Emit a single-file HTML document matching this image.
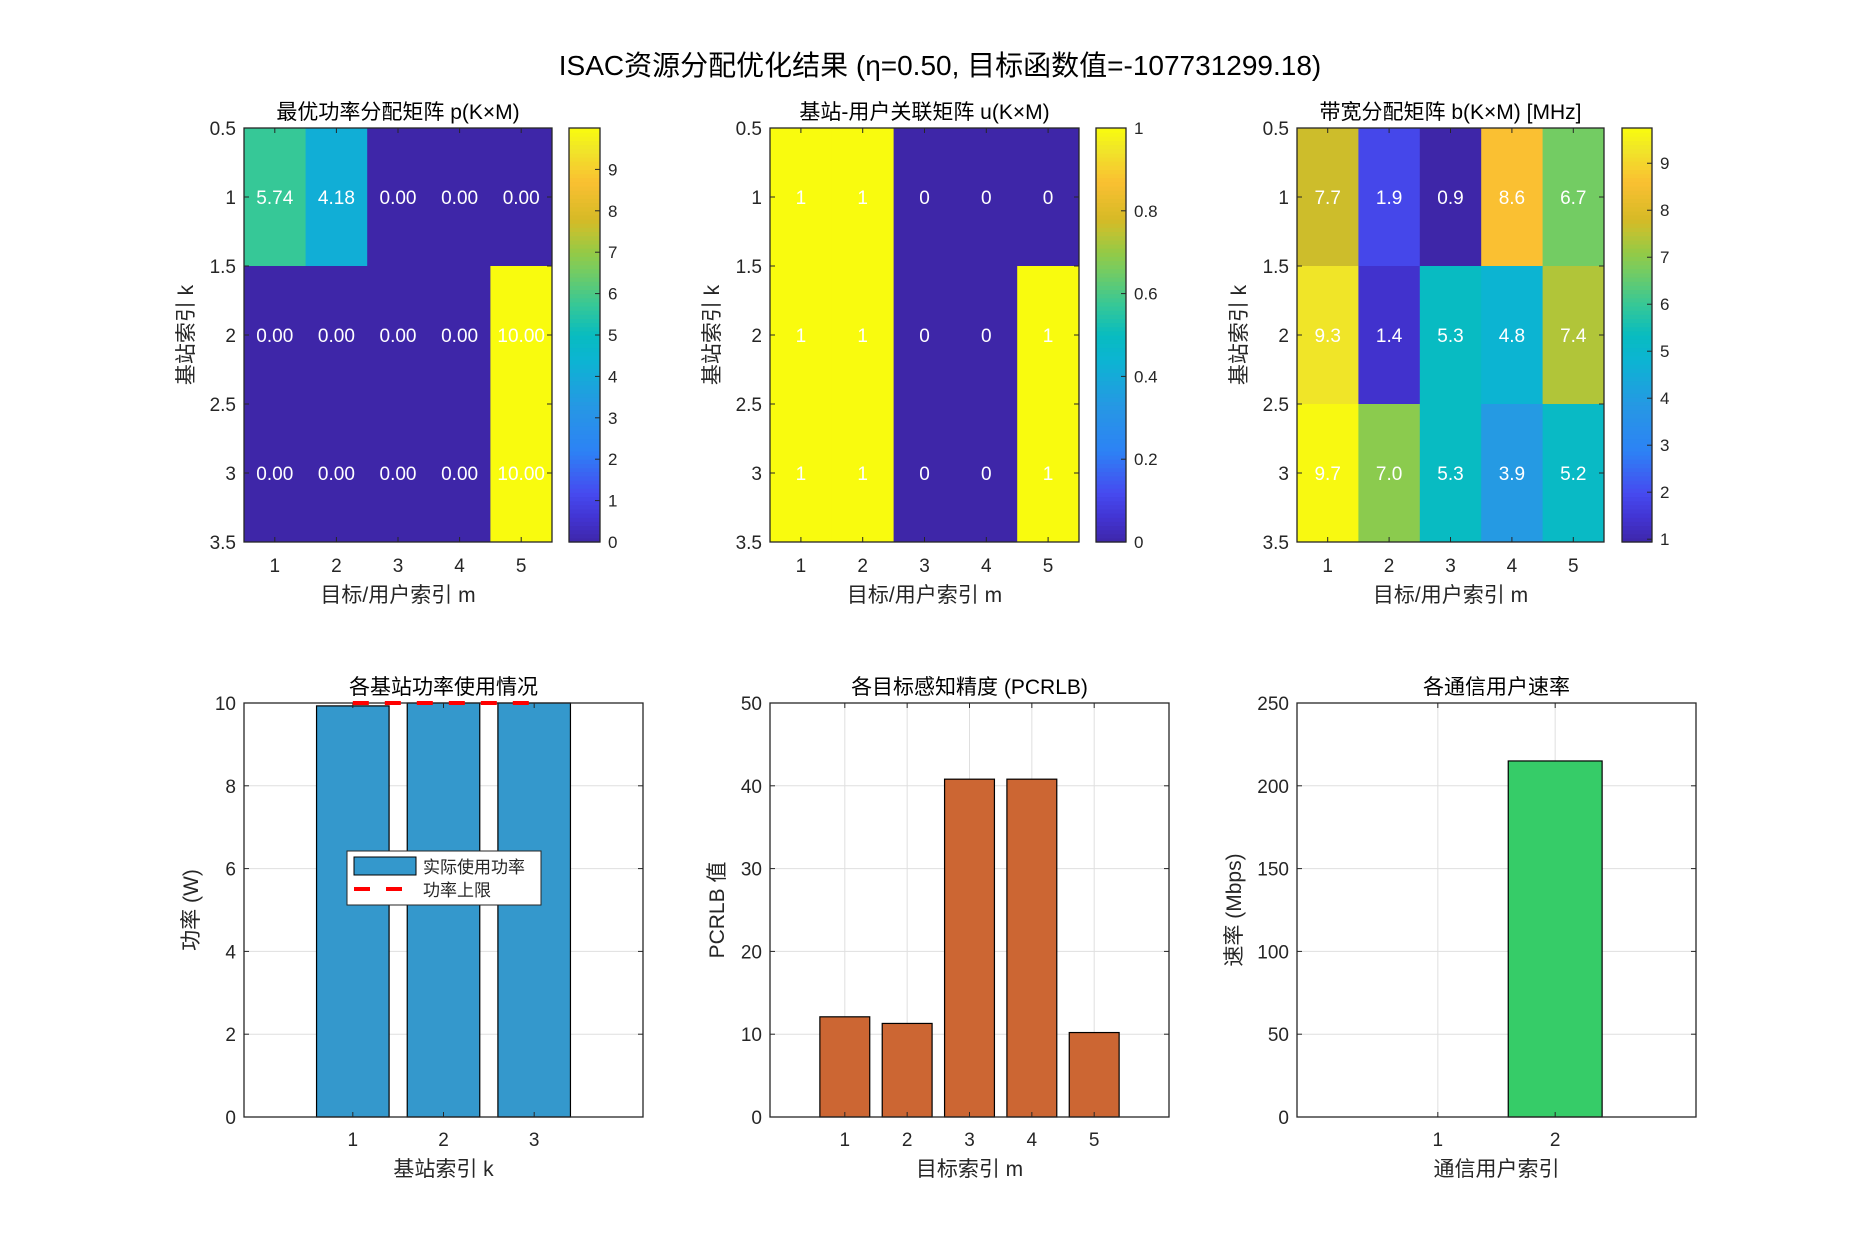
<!DOCTYPE html>
<html><head><meta charset="utf-8">
<style>
html,body{margin:0;padding:0;background:#fff;}
svg{display:block;font-family:"Liberation Sans","Noto Sans CJK SC",sans-serif;}
</style></head>
<body>
<svg id="fig" width="1875" height="1250" viewBox="0 0 1875 1250" xmlns="http://www.w3.org/2000/svg">
<rect width="1875" height="1250" fill="#fff"/>
<text x="940" y="75" font-size="28" text-anchor="middle" fill="#000">ISAC资源分配优化结果 (η=0.50, 目标函数值=-107731299.18)</text>
</svg>
<script>
// ---- data ----
const powerMatrix = [[5.74,4.18,0,0,0],[0,0,0,0,10],[0,0,0,0,10]];
const assocMatrix = [[1,1,0,0,0],[1,1,0,0,1],[1,1,0,0,1]];
const bwMatrix = [[7.7,1.9,0.9,8.6,6.7],[9.3,1.4,5.3,4.8,7.4],[9.7,7.0,5.3,3.9,5.2]];
const bsCategories = [1,2,3];
const bsPower = [9.93,10,10];
const powerLimit = 10;
const targetCategories = [1,2,3,4,5];
const pcrlbValues = [12.1,11.3,40.8,40.8,10.2];
const userCategories = [1,2];
const userRates = [0,215];
const powerTicks = [0,2,4,6,8,10];
const pcrlbTicks = [0,10,20,30,40,50];
const rateTicks = [0,50,100,150,200,250];
const heatYTicks = [0.5,1,1.5,2,2.5,3,3.5];
const heatYTickLabels = ['0.5','1','1.5','2','2.5','3','3.5'];
const cbTicks1 = [0,1,2,3,4,5,6,7,8,9];
const cbTicks2 = [0,0.2,0.4,0.6,0.8,1];
const cbTicks3 = [1,2,3,4,5,6,7,8,9];

const NS='http://www.w3.org/2000/svg';
const svg=document.getElementById('fig');
function mk(tag,attrs,parent){const e=document.createElementNS(NS,tag);for(const k in attrs)e.setAttribute(k,attrs[k]);(parent||svg).appendChild(e);return e;}
function txt(s,attrs,parent){const e=mk('text',attrs,parent);e.textContent=s;return e;}

const stops=[[0,[62,38,168]],[0.06,[66,52,210]],[0.12,[70,75,240]],[0.22,[45,130,245]],[0.33,[38,152,228]],[0.44,[12,180,210]],[0.5,[8,188,192]],[0.575,[55,200,150]],[0.66,[120,204,95]],[0.7,[148,202,70]],[0.75,[192,194,50]],[0.78,[214,186,38]],[0.87,[250,192,50]],[0.95,[240,230,40]],[1,[249,251,14]]];
function parula(t){t=Math.max(0,Math.min(1,t));for(let i=1;i<stops.length;i++){if(t<=stops[i][0]){const a=stops[i-1],b=stops[i];const f=(t-a[0])/(b[0]-a[0]);const c=a[1].map((v,j)=>Math.round(v+(b[1][j]-v)*f));return `rgb(${c[0]},${c[1]},${c[2]})`;}}return 'rgb(249,251,14)';}

const TOP=128,BOT=542;
function heatmap(cfg){
  const {x0,x1,cb0,cb1,data,vmin,vmax,fmt,title,cbTicks,cbFmt,name}=cfg;
  const g=mk('g',{});
  
  
  const nx=5,ny=3;
  const xs=v=>x0+(v-0.5)/nx*(x1-x0);
  const ys=v=>TOP+(v-0.5)/ny*(BOT-TOP);
  for(let r=0;r<ny;r++)for(let c=0;c<nx;c++){
    const v=data[r][c];
    const cell=mk('rect',{x:xs(c+0.5),y:ys(r+0.5),width:xs(c+1.5)-xs(c+0.5)+0.5,height:ys(r+1.5)-ys(r+0.5)+0.5,fill:parula((v-vmin)/(vmax-vmin))},g);
    
    
    const t=txt(fmt(v),{x:xs(c+1),y:ys(r+1)+7,'font-size':19,'text-anchor':'middle',fill:'#fff'},g);
    
    
  }
  mk('rect',{x:x0,y:TOP,width:x1-x0,height:BOT-TOP,fill:'none',stroke:'#262626','stroke-width':1.3},g);
  for(let i=1;i<=5;i++){const X=xs(i);mk('line',{x1:X,x2:X,y1:BOT,y2:BOT-5,stroke:'#262626'},g);mk('line',{x1:X,x2:X,y1:TOP,y2:TOP+5,stroke:'#262626'},g);
    const t=txt(String(i),{x:X,y:BOT+30,'font-size':19,'text-anchor':'middle',fill:'#262626'},g);}
  heatYTicks.forEach((v,i)=>{const Y=ys(v);mk('line',{x1:x0,x2:x0+5,y1:Y,y2:Y,stroke:'#262626'},g);mk('line',{x1:x1,x2:x1-5,y1:Y,y2:Y,stroke:'#262626'},g);
    const t=txt(heatYTickLabels[i],{x:x0-8,y:Y+7,'font-size':19,'text-anchor':'end',fill:'#262626'},g);});
  const tt=txt(title,{x:(x0+x1)/2,y:119,'font-size':21,'text-anchor':'middle',fill:'#000'},g);
  const xl=txt('目标/用户索引 m',{x:(x0+x1)/2,y:602,'font-size':21,'text-anchor':'middle',fill:'#262626'},g);
  const yl=txt('基站索引 k',{x:0,y:0,'font-size':21,'text-anchor':'middle',fill:'#262626',transform:`translate(${x0-51},${(TOP+BOT)/2}) rotate(-90)`},g);
  const cb=mk('g',{},g);
  const N=100;for(let i=0;i<N;i++){mk('rect',{x:cb0,y:BOT-(i+1)*(BOT-TOP)/N,width:cb1-cb0,height:(BOT-TOP)/N+0.6,fill:parula((i+0.5)/N)},cb);}
  mk('rect',{x:cb0,y:TOP,width:cb1-cb0,height:BOT-TOP,fill:'none',stroke:'#262626','stroke-width':1.3},cb);
  cbTicks.forEach(v=>{const Y=BOT-(v-vmin)/(vmax-vmin)*(BOT-TOP);mk('line',{x1:cb1,x2:cb1-5,y1:Y,y2:Y,stroke:'#262626'},cb);
    const t=txt(cbFmt(v),{x:cb1+8,y:Y+6,'font-size':17,fill:'#262626'},cb);});
}
heatmap({name:'power-heatmap',x0:244,x1:552,cb0:569,cb1:600,data:powerMatrix,vmin:0,vmax:10,fmt:v=>v.toFixed(2),title:'最优功率分配矩阵 p(K×M)',cbTicks:cbTicks1,cbFmt:v=>String(v)});
heatmap({name:'association-heatmap',x0:770,x1:1079,cb0:1096,cb1:1126,data:assocMatrix,vmin:0,vmax:1,fmt:v=>String(v),title:'基站-用户关联矩阵 u(K×M)',cbTicks:cbTicks2,cbFmt:v=>String(v)});
heatmap({name:'bandwidth-heatmap',x0:1297,x1:1604,cb0:1622,cb1:1652,data:bwMatrix,vmin:0.94,vmax:9.75,fmt:v=>v.toFixed(1),title:'带宽分配矩阵 b(K×M) [MHz]',cbTicks:cbTicks3,cbFmt:v=>String(v)});

const BT=703,BB=1117;
function barChart(cfg){
  const {x0,x1,cats,vals,xmin,xmax,ymax,ticks,color,title,xlabel,ylabel,ylx,name,xgrid}=cfg;
  const g=mk('g',{});
  const xs=v=>x0+(v-xmin)/(xmax-xmin)*(x1-x0);
  const ys=v=>BB-v/ymax*(BB-BT);
  ticks.forEach(v=>{const Y=ys(v);if(v>0&&v<ymax){const gl=mk('line',{x1:x0,x2:x1,y1:Y,y2:Y,stroke:'#dfdfdf','stroke-width':1},g);}});
  if(xgrid)cats.forEach(c=>{mk('line',{x1:xs(c),x2:xs(c),y1:BT,y2:BB,stroke:'#dfdfdf'},g);});
  cats.forEach((c,i)=>{if(vals[i]<=0)return;const b=mk('rect',{x:xs(c-0.4),y:ys(vals[i]),width:xs(c+0.4)-xs(c-0.4),height:ys(0)-ys(vals[i]),fill:color,stroke:'#000','stroke-width':1.2},g);
    });
  mk('rect',{x:x0,y:BT,width:x1-x0,height:BB-BT,fill:'none',stroke:'#262626','stroke-width':1.3},g);
  ticks.forEach(v=>{const Y=ys(v);mk('line',{x1:x0,x2:x0+5,y1:Y,y2:Y,stroke:'#262626'},g);mk('line',{x1:x1,x2:x1-5,y1:Y,y2:Y,stroke:'#262626'},g);
    const t=txt(String(v),{x:x0-8,y:Y+7,'font-size':19,'text-anchor':'end',fill:'#262626'},g);});
  cats.forEach(c=>{const X=xs(c);mk('line',{x1:X,x2:X,y1:BB,y2:BB-5,stroke:'#262626'},g);mk('line',{x1:X,x2:X,y1:BT,y2:BT+5,stroke:'#262626'},g);
    const t=txt(String(c),{x:X,y:BB+29,'font-size':19,'text-anchor':'middle',fill:'#262626'},g);});
  const tt=txt(title,{x:(x0+x1)/2,y:694,'font-size':21,'text-anchor':'middle',fill:'#000'},g);
  const xl=txt(xlabel,{x:(x0+x1)/2,y:1176,'font-size':21,'text-anchor':'middle',fill:'#262626'},g);
  const yl=txt(ylabel,{x:0,y:0,'font-size':21,'text-anchor':'middle',fill:'#262626',transform:`translate(${ylx},${(BT+BB)/2}) rotate(-90)`},g);
  return {g,xs,ys};
}
const c1=barChart({name:'bs-power-chart',x0:244,x1:643,cats:bsCategories,vals:bsPower,xmin:-0.2,xmax:4.2,ymax:10,ticks:powerTicks,color:'#3498cc',title:'各基站功率使用情况',xlabel:'基站索引 k',ylabel:'功率 (W)',ylx:198,xgrid:false});
const lim=mk('line',{x1:c1.xs(bsCategories[0]),x2:c1.xs(bsCategories[bsCategories.length-1]),y1:c1.ys(powerLimit),y2:c1.ys(powerLimit),stroke:'#ff0000','stroke-width':4,'stroke-dasharray':'16,16'},c1.g);


const lg=mk('g',{},c1.g);


mk('rect',{x:347,y:851,width:194,height:54,fill:'#fff',stroke:'#262626','stroke-width':1},lg);
mk('rect',{x:354,y:857,width:62,height:18,fill:'#3498cc',stroke:'#000','stroke-width':1},lg);
const le1=txt('实际使用功率',{x:423,y:873,'font-size':17,fill:'#262626'},lg);


mk('line',{x1:354,x2:416,y1:889,y2:889,stroke:'#ff0000','stroke-width':4,'stroke-dasharray':'16,16'},lg);
const le2=txt('功率上限',{x:423,y:896,'font-size':17,fill:'#262626'},lg);



barChart({name:'pcrlb-chart',x0:770,x1:1169,cats:targetCategories,vals:pcrlbValues,xmin:-0.2,xmax:6.2,ymax:50,ticks:pcrlbTicks,color:'#cc6633',title:'各目标感知精度 (PCRLB)',xlabel:'目标索引 m',ylabel:'PCRLB 值',ylx:724,xgrid:true});
barChart({name:'user-rate-chart',x0:1297,x1:1696,cats:userCategories,vals:userRates,xmin:-0.2,xmax:3.2,ymax:250,ticks:rateTicks,color:'#36cc68',title:'各通信用户速率',xlabel:'通信用户索引',ylabel:'速率 (Mbps)',ylx:1241,xgrid:true});
</script>
</body></html>
